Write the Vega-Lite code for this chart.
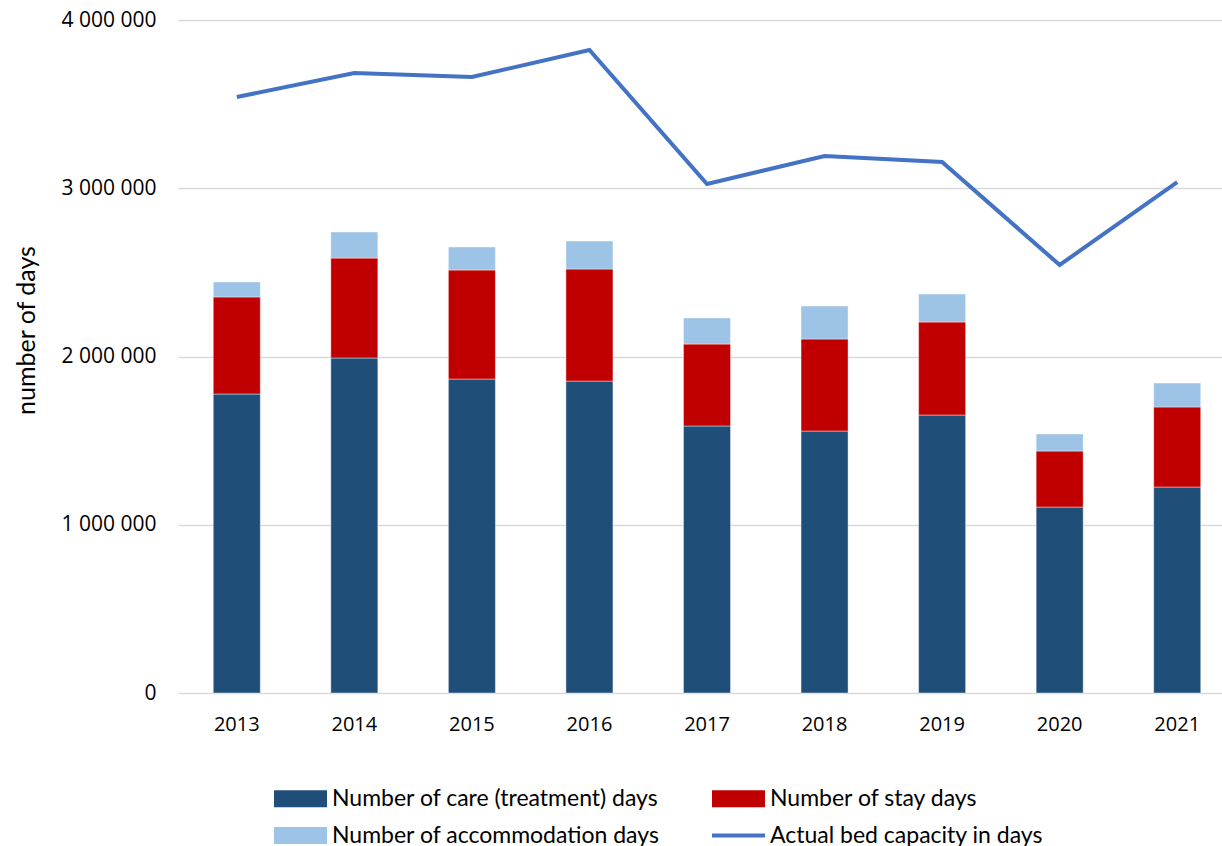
{
  "$schema": "https://vega.github.io/schema/vega-lite/v6.json",
  "width": 1058,
  "height": 673,
  "autosize": {"type": "none"},
  "padding": {"left": 178, "top": 20, "right": 0, "bottom": 153},
  "background": "white",
  "config": {
    "view": {"stroke": null},
    "font": "Lato"
  },
  "datasets": {
    "bars": [
      {"year": "2013", "series": "Number of care (treatment) days", "rank": 1, "value": 1777000},
      {"year": "2013", "series": "Number of stay days", "rank": 2, "value": 577000},
      {"year": "2013", "series": "Number of accommodation days", "rank": 3, "value": 89000},
      {"year": "2014", "series": "Number of care (treatment) days", "rank": 1, "value": 1991000},
      {"year": "2014", "series": "Number of stay days", "rank": 2, "value": 594000},
      {"year": "2014", "series": "Number of accommodation days", "rank": 3, "value": 155000},
      {"year": "2015", "series": "Number of care (treatment) days", "rank": 1, "value": 1866000},
      {"year": "2015", "series": "Number of stay days", "rank": 2, "value": 648000},
      {"year": "2015", "series": "Number of accommodation days", "rank": 3, "value": 137000},
      {"year": "2016", "series": "Number of care (treatment) days", "rank": 1, "value": 1854000},
      {"year": "2016", "series": "Number of stay days", "rank": 2, "value": 666000},
      {"year": "2016", "series": "Number of accommodation days", "rank": 3, "value": 166000},
      {"year": "2017", "series": "Number of care (treatment) days", "rank": 1, "value": 1587000},
      {"year": "2017", "series": "Number of stay days", "rank": 2, "value": 487000},
      {"year": "2017", "series": "Number of accommodation days", "rank": 3, "value": 155000},
      {"year": "2018", "series": "Number of care (treatment) days", "rank": 1, "value": 1557000},
      {"year": "2018", "series": "Number of stay days", "rank": 2, "value": 547000},
      {"year": "2018", "series": "Number of accommodation days", "rank": 3, "value": 196000},
      {"year": "2019", "series": "Number of care (treatment) days", "rank": 1, "value": 1652000},
      {"year": "2019", "series": "Number of stay days", "rank": 2, "value": 553000},
      {"year": "2019", "series": "Number of accommodation days", "rank": 3, "value": 166000},
      {"year": "2020", "series": "Number of care (treatment) days", "rank": 1, "value": 1105000},
      {"year": "2020", "series": "Number of stay days", "rank": 2, "value": 333000},
      {"year": "2020", "series": "Number of accommodation days", "rank": 3, "value": 101000},
      {"year": "2021", "series": "Number of care (treatment) days", "rank": 1, "value": 1224000},
      {"year": "2021", "series": "Number of stay days", "rank": 2, "value": 476000},
      {"year": "2021", "series": "Number of accommodation days", "rank": 3, "value": 142000}
    ],
    "capacity": [
      {"year": "2013", "series": "Actual bed capacity in days", "value": 3542000},
      {"year": "2014", "series": "Actual bed capacity in days", "value": 3685000},
      {"year": "2015", "series": "Actual bed capacity in days", "value": 3661000},
      {"year": "2016", "series": "Actual bed capacity in days", "value": 3822000},
      {"year": "2017", "series": "Actual bed capacity in days", "value": 3025000},
      {"year": "2018", "series": "Actual bed capacity in days", "value": 3192000},
      {"year": "2019", "series": "Actual bed capacity in days", "value": 3156000},
      {"year": "2020", "series": "Actual bed capacity in days", "value": 2544000},
      {"year": "2021", "series": "Actual bed capacity in days", "value": 3037000}
    ]
  },
  "encoding": {
    "x": {
      "field": "year",
      "type": "ordinal",
      "scale": {"paddingInner": 0.6, "paddingOuter": 0.3},
      "axis": {
        "title": null,
        "labelAngle": 0,
        "labelFont": "Open Sans",
        "labelFontSize": 20,
        "labelColor": "#000000",
        "labelPadding": 21,
        "ticks": false,
        "domain": false,
        "grid": false
      }
    },
    "y": {
      "field": "value",
      "type": "quantitative",
      "scale": {"domain": [0, 4000000], "nice": false},
      "axis": {
        "title": "number of days",
        "titleFont": "Lato",
        "titleFontSize": 25,
        "titleFontWeight": "normal",
        "titleColor": "#000000",
        "titleY": 310,
        "titleX": -139,
        "values": [0, 1000000, 2000000, 3000000, 4000000],
        "labelExpr": "replace(replace(format(datum.value, ','), ',', ' '), ',', ' ')",
        "labelFont": "Open Sans",
        "labelFontSize": 21,
        "labelColor": "#000000",
        "labelPadding": 22,
        "ticks": false,
        "domain": false,
        "grid": true,
        "gridColor": "#d9d9d9",
        "gridWidth": 1.5
      }
    },
    "color": {
      "field": "series",
      "type": "nominal",
      "scale": {
        "domain": ["Number of care (treatment) days", "Number of stay days", "Number of accommodation days", "Actual bed capacity in days"],
        "range": ["#1F4E79", "#C00000", "#9DC3E6", "#4472C4"]
      },
      "legend": {
        "title": null,
        "orient": "none",
        "legendX": 111,
        "legendY": 767,
        "direction": "horizontal",
        "columns": 2,
        "columnPadding": 44,
        "rowPadding": 13,
        "labelFont": "Lato",
        "labelFontSize": 23,
        "labelColor": "#000000",
        "labelOffset": 20,
        "symbolSize": 2809,
        "symbolStrokeWidth": 0,
        "symbolOpacity": 1,
        "labelLimit": 500,
        "encode": {
          "symbols": {
            "update": {
              "shape": {"signal": "datum.value === 'Actual bed capacity in days' ? 'M-1,0H1' : 'M-1,-0.32H1V0.32H-1Z'"},
              "strokeWidth": {"signal": "datum.value === 'Actual bed capacity in days' ? 4 : 0"},
              "stroke": {"signal": "datum.value === 'Actual bed capacity in days' ? '#4472C4' : null"},
              "fill": {"signal": "datum.value === 'Actual bed capacity in days' ? 'transparent' : scale('color', datum.value)"},
              "opacity": {"value": 1}
            }
          }
        }
      }
    }
  },
  "layer": [
    {
      "data": {"name": "bars"},
      "mark": {"type": "bar", "stroke": "#ffffff", "strokeWidth": 0.6, "strokeOpacity": 0.7},
      "encoding": {
        "order": {"field": "rank", "type": "quantitative"}
      }
    },
    {
      "data": {"name": "capacity"},
      "mark": {"type": "line", "strokeWidth": 4},
      "encoding": {}
    }
  ]
}
